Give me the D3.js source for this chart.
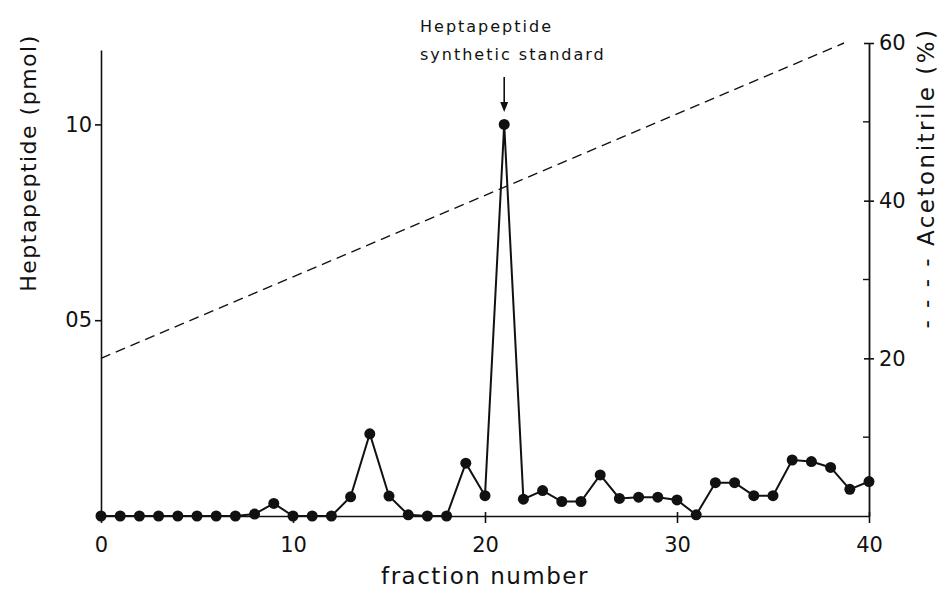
<!DOCTYPE html>
<html>
<head>
<meta charset="utf-8">
<script src="https://cdn.jsdelivr.net/npm/d3@7"></script>
<style>
  html, body { margin: 0; padding: 0; background: #fff; }
  svg { display: block; }
  text { font-family: "DejaVu Sans", sans-serif; fill: #111; }
</style>
</head>
<body>
<svg id="chart" width="950" height="593"></svg>
<script>
// ---- data ----
const fractions = [0,1,2,3,4,5,6,7,8,9,10,11,12,13,14,15,16,17,18,19,20,21,22,23,24,25,26,27,28,29,30,31,32,33,34,35,36,37,38,39,40];
const heptapeptide = [0,0,0,0,0,0,0,0,0.005,0.032,0,0,0,0.049,0.21,0.051,0.003,0,0,0.135,0.052,1.0,0.043,0.065,0.037,0.037,0.105,0.045,0.048,0.048,0.041,0.003,0.085,0.085,0.052,0.052,0.143,0.139,0.124,0.068,0.088];
const gradientFraction = [0, 38.7];
const gradientPercent = [20, 60];
const xTicks = [0, 10, 20, 30, 40];
const leftTicks = [0.5, 1.0];
const leftTickLabels = ["05", "10"];
const rightMajorTicks = [20, 40, 60];
const rightMinorTicks = [10, 30, 50];
const annotationLines = ["Heptapeptide", "synthetic standard"];
const annotationFraction = 21;

// ---- layout ----
const svg = d3.select("#chart");
const x = d3.scaleLinear().domain([0, 40]).range([101, 869]);
const yL = d3.scaleLinear().domain([0, 1.19]).range([516, 50]);
const yR = d3.scaleLinear().domain([0, 60]).range([516, 43]);
const ink = "#111";

// x axis
const gx = svg.append("g").attr("transform", `translate(0,${yL(0)})`)
  .call(d3.axisBottom(x).tickValues(xTicks).tickSize(7).tickSizeOuter(0).tickFormat(d3.format("d")));
gx.select(".domain").attr("stroke", ink).attr("stroke-width", 1.6);
gx.selectAll(".tick line").attr("stroke", ink).attr("stroke-width", 1.6).attr("y1", -4);
gx.selectAll(".tick text").attr("font-size", 21).attr("dy", "1.0em").attr("y", 15);

// left axis
const gl = svg.append("g").attr("transform", `translate(${x(0)},0)`)
  .call(d3.axisLeft(yL).tickValues(leftTicks).tickSize(6).tickSizeOuter(0)
    .tickFormat((d, i) => leftTickLabels[i]));
gl.select(".domain").attr("stroke", ink).attr("stroke-width", 1.6);
gl.selectAll(".tick line").attr("stroke", ink).attr("stroke-width", 1.6);
gl.selectAll(".tick text").attr("font-size", 21).attr("x", -9);

// right axis
const gr = svg.append("g").attr("transform", `translate(${x(40)},0)`)
  .call(d3.axisRight(yR).tickValues(rightMajorTicks).tickSize(5).tickSizeOuter(0).tickFormat(d3.format("d")));
gr.select(".domain").attr("stroke", ink).attr("stroke-width", 1.8);
gr.selectAll(".tick line").attr("stroke", ink).attr("stroke-width", 1.6).attr("x1", -5);
gr.selectAll(".tick text").attr("font-size", 21).attr("x", 10);
gr.selectAll(".minor").data(rightMinorTicks).enter().append("line")
  .attr("x1", -6).attr("x2", 0)
  .attr("y1", d => yR(d)).attr("y2", d => yR(d))
  .attr("stroke", ink).attr("stroke-width", 1.4);

// gradient dashed line
const gradData = gradientFraction.map((f, i) => [f, gradientPercent[i]]);
svg.append("path")
  .datum(gradData)
  .attr("d", d3.line().x(d => x(d[0])).y(d => yR(d[1])))
  .attr("fill", "none").attr("stroke", ink).attr("stroke-width", 1.4)
  .attr("stroke-dasharray", "10,6");

// heptapeptide line + points
const pts = fractions.map((f, i) => [f, heptapeptide[i]]);
svg.append("path")
  .datum(pts)
  .attr("d", d3.line().x(d => x(d[0])).y(d => yL(d[1])))
  .attr("fill", "none").attr("stroke", ink).attr("stroke-width", 2);
svg.selectAll(".dot").data(pts).enter().append("circle")
  .attr("cx", d => x(d[0])).attr("cy", d => yL(d[1])).attr("r", 5.5)
  .attr("fill", ink);

// annotation
const ann = svg.append("text").attr("x", 420).attr("y", 32).attr("font-size", 16).attr("letter-spacing", 2);
annotationLines.forEach((t, i) => {
  ann.append("tspan").attr("x", 420).attr("dy", i === 0 ? 0 : 28).text(t);
});
const ax = x(annotationFraction);
svg.append("line").attr("x1", ax).attr("x2", ax).attr("y1", 77).attr("y2", 108)
  .attr("stroke", ink).attr("stroke-width", 1.6);
svg.append("path")
  .attr("d", `M${ax - 4},${102} L${ax + 4},${102} L${ax},${112} Z`)
  .attr("fill", ink);

// axis titles
svg.append("text").attr("x", 485).attr("y", 584).attr("text-anchor", "middle")
  .attr("font-size", 23).attr("letter-spacing", 1.5).text("fraction number");
svg.append("text").attr("transform", "translate(36,163) rotate(-90)").attr("text-anchor", "middle")
  .attr("font-size", 22).attr("letter-spacing", 1.5).text("Heptapeptide (pmol)");
svg.append("text").attr("transform", "translate(934,178) rotate(-90)").attr("text-anchor", "middle")
  .attr("font-size", 23).attr("letter-spacing", 2.5).text("- - - -  Acetonitrile (%)");
</script>
</body>
</html>
